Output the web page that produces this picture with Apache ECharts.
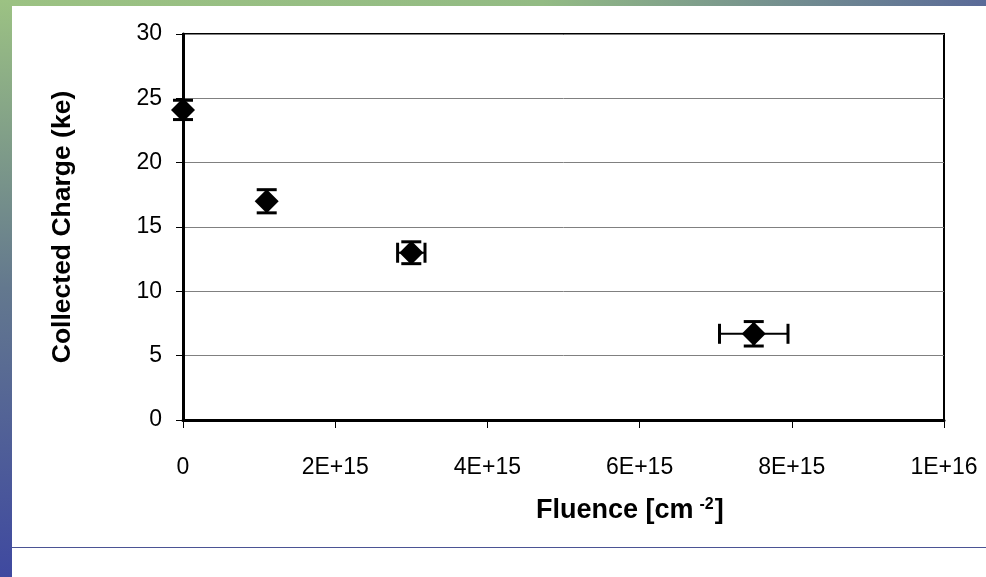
<!DOCTYPE html>
<html><head><meta charset="utf-8">
<script src="https://cdn.jsdelivr.net/npm/echarts@6/dist/echarts.min.js"></script>
<style>html,body{margin:0;padding:0;background:#fff}#c{width:986px;height:577px}</style>
</head><body><div id="c"></div>
<script>
const fluence = [0, 1.1e15, 3.0e15, 7.5e15];
const charge = [24.1, 17.0, 13.0, 6.7];
const chargeErr = [0.75, 0.9, 0.85, 0.95];
const fluenceErr = [0, 0, 0.18e15, 0.45e15];
const xTickValues = [0, 2e15, 4e15, 6e15, 8e15, 1e16];
const xTickLabels = ['0', '2E+15', '4E+15', '6E+15', '8E+15', '1E+16'];
const yTickLabels = ['0', '5', '10', '15', '20', '25', '30'];

const chart = echarts.init(document.getElementById('c'));
const pts = fluence.map((f, i) => [f, charge[i]]);
const errData = fluence.map((f, i) => [f, charge[i], chargeErr[i], fluenceErr[i]]);
const FONT = 'Liberation Sans, Arial, sans-serif';

chart.setOption({
  animation: false,
  backgroundColor: '#fff',
  graphic: [
    { type: 'rect', left: 0, top: 0, shape: { width: 986, height: 6 }, silent: true,
      style: { fill: new echarts.graphic.LinearGradient(0, 0, 1, 0, [
        { offset: 0, color: '#9cc283' }, { offset: 0.55, color: '#93bb84' }, { offset: 1, color: '#5a6a98' }]) } },
    { type: 'rect', left: 0, top: 0, shape: { width: 12, height: 577 }, silent: true,
      style: { fill: new echarts.graphic.LinearGradient(0, 0, 0, 1, [
        { offset: 0, color: '#9cc283' }, { offset: 0.5, color: '#63788e' }, { offset: 1, color: '#3f49a0' }]) } },
    { type: 'rect', left: 12, top: 547, shape: { width: 974, height: 1 }, silent: true,
      style: { fill: '#4b5494' } },
    { type: 'text', left: 536, top: 497, silent: true,
      style: { rich: {
        a: { fontFamily: FONT, fontWeight: 'bold', fontSize: 27, fill: '#000' },
        s: { fontFamily: FONT, fontWeight: 'bold', fontSize: 16, fill: '#000', verticalAlign: 'top', padding: [0, 1, 12, 6] }
      }, text: '{a|Fluence [cm}{s|-2}{a|]}' } }
  ],
  grid: { left: 183, top: 34, width: 761, height: 386, show: true, borderColor: '#000', borderWidth: 2, backgroundColor: 'transparent' },
  xAxis: {
    type: 'value', min: 0, max: 1e16, interval: 2e15,
    axisLine: { show: true, onZero: false, lineStyle: { color: '#000', width: 3 } },
    axisTick: { show: true, length: 8, lineStyle: { color: '#000', width: 1 } },
    axisLabel: { margin: 36, fontFamily: FONT, fontSize: 23, color: '#000',
      formatter: v => { const k = xTickValues.indexOf(v); return k >= 0 ? xTickLabels[k] : ''; } },
    splitLine: { show: false }
  },
  yAxis: {
    type: 'value', min: 0, max: 30, interval: 5,
    name: 'Collected Charge (ke)', nameLocation: 'middle', nameGap: 107, nameRotate: 90,
    nameTextStyle: { fontFamily: FONT, fontWeight: 'bold', fontSize: 26.5, color: '#000' },
    axisLine: { show: true, onZero: false, lineStyle: { color: '#000', width: 3 } },
    axisTick: { show: true, length: 7, lineStyle: { color: '#000', width: 1 } },
    axisLabel: { margin: 21, fontFamily: FONT, fontSize: 23, color: '#000',
      formatter: v => yTickLabels[Math.round(v / 5)] },
    splitLine: { show: true, lineStyle: { color: '#808080', width: 1 } }
  },
  series: [
    {
      type: 'custom', data: errData, z: 3,
      renderItem: (params, api) => {
        const x = api.value(0), y = api.value(1), ye = api.value(2), xe = api.value(3);
        const top = api.coord([x, y + ye]), bot = api.coord([x, y - ye]);
        const cap = 10;
        const st = { stroke: '#000', lineWidth: 3 };
        const ch = [
          { type: 'line', shape: { x1: top[0], y1: top[1], x2: bot[0], y2: bot[1] }, style: st },
          { type: 'line', shape: { x1: top[0] - cap, y1: top[1], x2: top[0] + cap, y2: top[1] }, style: st },
          { type: 'line', shape: { x1: bot[0] - cap, y1: bot[1], x2: bot[0] + cap, y2: bot[1] }, style: st }
        ];
        if (xe > 0) {
          const l = api.coord([x - xe, y]), r = api.coord([x + xe, y]);
          ch.push(
            { type: 'line', shape: { x1: l[0], y1: l[1], x2: r[0], y2: r[1] }, style: { stroke: '#000', lineWidth: 2 } },
            { type: 'line', shape: { x1: l[0], y1: l[1] - cap, x2: l[0], y2: l[1] + cap }, style: st },
            { type: 'line', shape: { x1: r[0], y1: r[1] - cap, x2: r[0], y2: r[1] + cap }, style: st }
          );
        }
        return { type: 'group', children: ch };
      }
    },
    {
      type: 'scatter', data: pts, symbol: 'diamond', symbolSize: [24, 24], z: 4,
      itemStyle: { color: '#000', opacity: 1 }, clip: false
    }
  ]
});
</script></body></html>
